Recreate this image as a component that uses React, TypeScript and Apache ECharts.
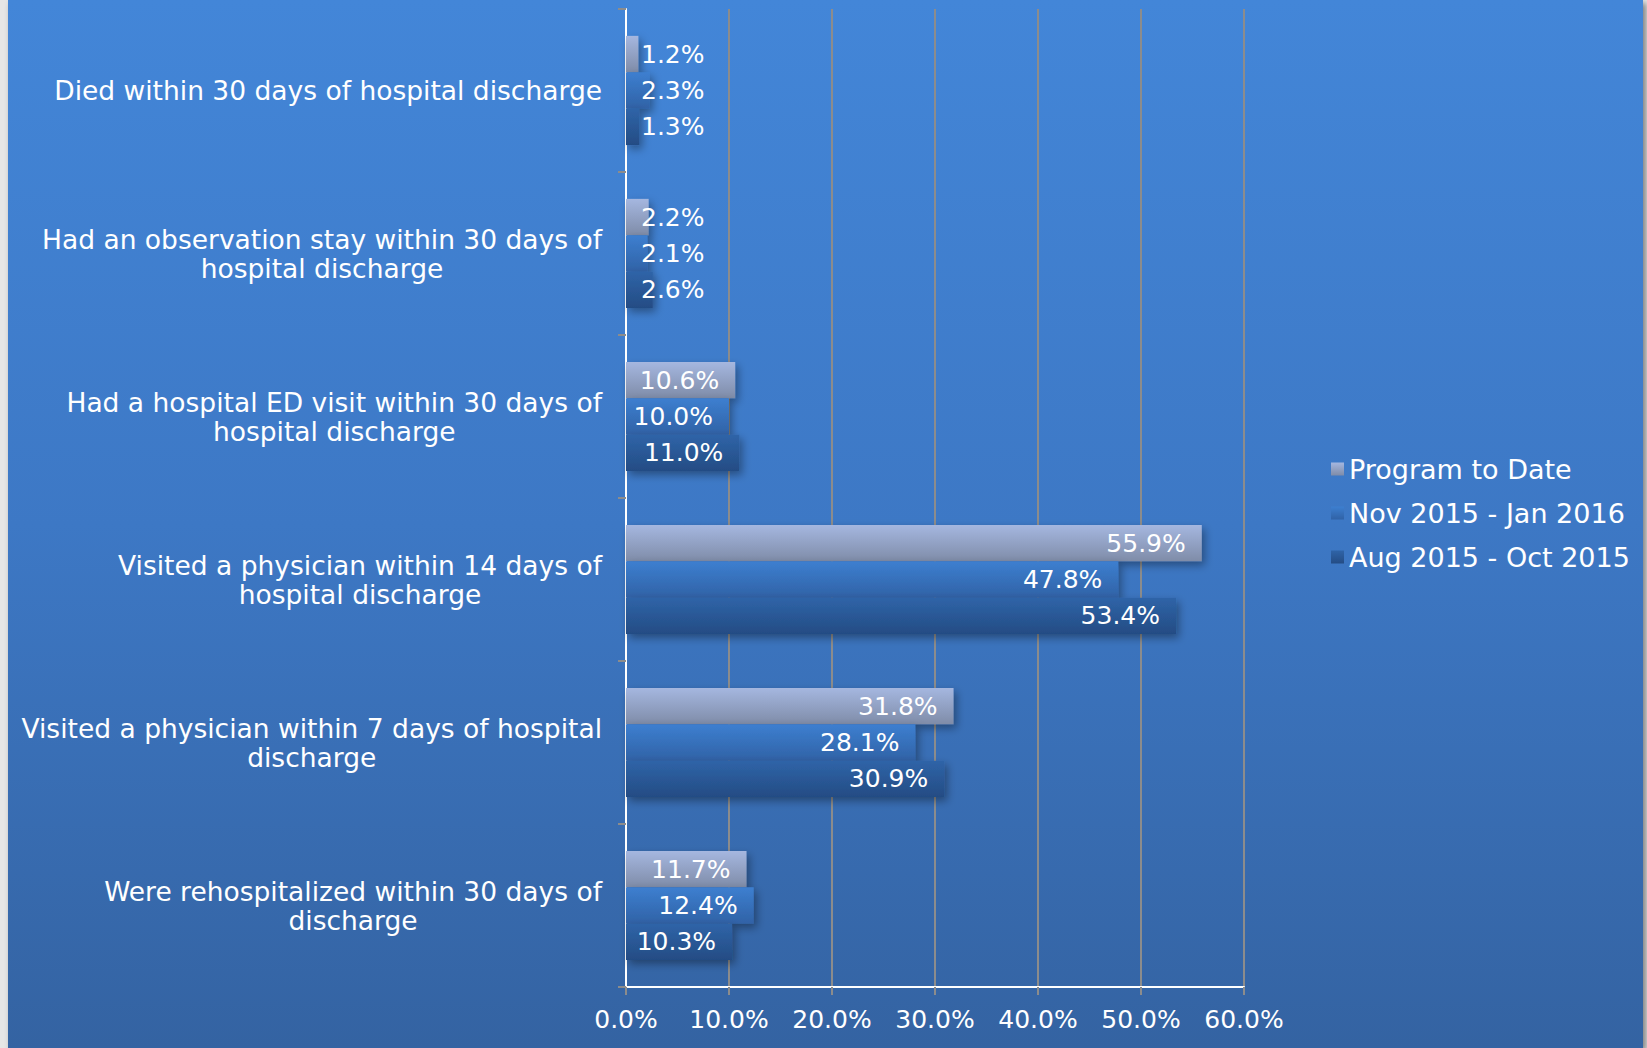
import React, { useEffect, useRef } from "react";
import * as echarts from "echarts";

const categories = [
  "Died within 30 days of hospital discharge",
  "Had an observation stay within 30 days of\nhospital discharge",
  "Had a hospital ED visit within 30 days of\nhospital discharge",
  "Visited a physician within 14 days of\nhospital discharge",
  "Visited a physician within 7 days of hospital\ndischarge",
  "Were rehospitalized within 30 days of\ndischarge",
];

const programToDate = [1.2, 2.2, 10.6, 55.9, 31.8, 11.7];
const nov2015Jan2016 = [2.3, 2.1, 10.0, 47.8, 28.1, 12.4];
const aug2015Oct2015 = [1.3, 2.6, 11.0, 53.4, 30.9, 10.3];

const seriesNames = ["Program to Date", "Nov 2015 - Jan 2016", "Aug 2015 - Oct 2015"];

const FONT = "'DejaVu Sans', 'Open Sans', sans-serif";
const FS = 25;
const FS_CAT = 26.5;
const FS_LEG = 27;

function grad(a: string, b: string) {
  return new echarts.graphic.LinearGradient(0, 0, 0, 1, [
    { offset: 0, color: a },
    { offset: 1, color: b },
  ]);
}

export default function App() {
  const ref = useRef<HTMLDivElement>(null);

  useEffect(() => {
    if (!ref.current) return;
    const chart = echarts.init(ref.current, undefined, { renderer: "svg" });

    const mkData = (vals: number[]) =>
      vals.map((v) => ({
        value: v,
        label:
          v < 5
            ? { position: "insideLeft" as const, distance: 15 }
            : { position: "insideRight" as const, distance: 16 },
      }));

    const colors = [
      grad("#a5b7e0", "#7f8ca8"),
      grad("#3d7fd0", "#3062a6"),
      grad("#2f64a8", "#244c84"),
    ];
    const values = [programToDate, nov2015Jan2016, aug2015Oct2015];

    const series = values.map((vals, i) => ({
      name: seriesNames[i],
      type: "bar" as const,
      data: mkData(vals),
      barGap: "0%",
      barCategoryGap: "33%",
      itemStyle: {
        color: colors[i],
        shadowColor: "rgba(0,0,0,0.35)",
        shadowBlur: 8,
        shadowOffsetX: 3,
        shadowOffsetY: 4,
      },
      label: {
        show: true,
        color: "#ffffff",
        fontFamily: FONT,
        fontSize: FS,
        formatter: (p: any) => Number(p.value).toFixed(1) + "%",
      },
    }));

    chart.setOption({
      animation: false,
      backgroundColor: "transparent",
      grid: { left: 626, right: 403, top: 9, bottom: 61, containLabel: false },
      legend: {
        orient: "vertical",
        left: 1326,
        top: 449,
        data: seriesNames,
        icon: "rect",
        itemWidth: 13,
        itemHeight: 13,
        itemGap: 14,
        textStyle: { color: "#ffffff", fontFamily: FONT, fontSize: FS_LEG, lineHeight: 30 },
      },
      xAxis: {
        type: "value",
        min: 0,
        max: 60,
        interval: 10,
        axisLine: { show: true, lineStyle: { color: "#ffffff", width: 2 } },
        axisTick: { show: true, length: 8, lineStyle: { color: "#8c8c8c", width: 2 } },
        splitLine: { show: true, lineStyle: { color: "#8c8c8c", width: 2 } },
        axisLabel: {
          color: "#ffffff",
          fontFamily: FONT,
          fontSize: FS,
          margin: 20,
          formatter: (v: number) => v.toFixed(1) + "%",
        },
      },
      yAxis: {
        type: "category",
        inverse: true,
        data: categories,
        axisLine: { show: true, lineStyle: { color: "#ffffff", width: 2 } },
        axisTick: { show: true, length: 8, lineStyle: { color: "#8c8c8c", width: 2 } },
        axisLabel: {
          color: "#ffffff",
          fontFamily: FONT,
          fontSize: FS_CAT,
          lineHeight: 29,
          margin: 24,
          align: "right",
          formatter: (v: string) =>
            v
              .split("\n")
              .map((l) => "{c|" + l + "}")
              .join("\n"),
          rich: {
            c: {
              color: "#ffffff",
              fontFamily: FONT,
              fontSize: FS_CAT,
              lineHeight: 29,
              align: "center",
            },
          },
        },
      },
      series,
    });

    return () => chart.dispose();
  }, []);

  return (
    <div
      style={{
        position: "fixed",
        left: 0,
        top: 0,
        width: 1647,
        height: 1048,
        background: "#e6e6e6",
        overflow: "hidden",
      }}
    >
      <div
        style={{
          position: "absolute",
          left: 8,
          top: 0,
          width: 1635,
          height: 1048,
          background: "linear-gradient(to bottom, #4386d8 0%, #3d78c5 50%, #3463a2 100%)",
          boxShadow: "3px 3px 6px rgba(0,0,0,0.45)",
        }}
      />
      <div ref={ref} style={{ position: "absolute", left: 0, top: 0, width: 1647, height: 1048 }} />
    </div>
  );
}
